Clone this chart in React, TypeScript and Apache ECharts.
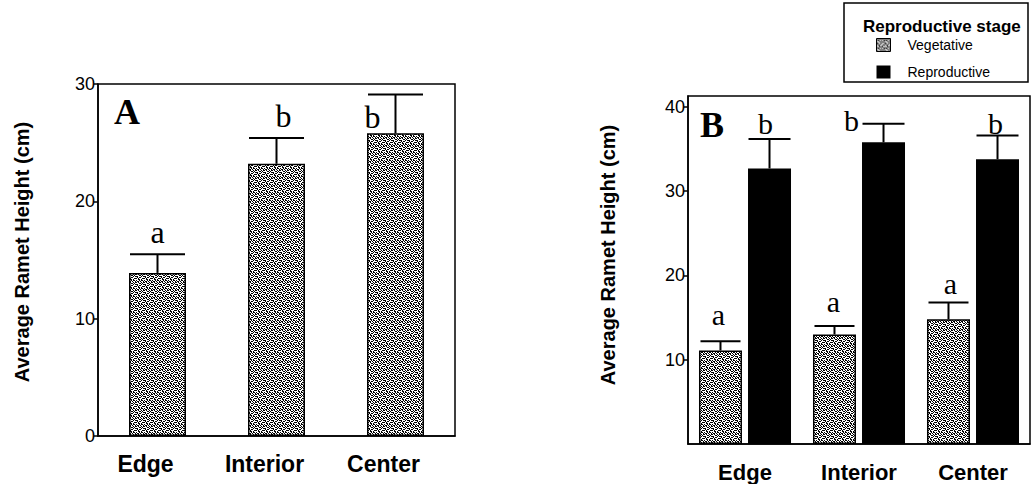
import { useEffect, useRef } from 'react';
import * as echarts from 'echarts';

// ---- data ----
const categories = ['Edge', 'Interior', 'Center'];
const heightA = [13.9, 23.2, 25.8];
const errorA = [1.6, 2.2, 3.3];
const lettersA = ['a', 'b', 'b'];
const vegetativeB = [11.1, 13.0, 14.8];
const vegetativeErrB = [1.1, 1.0, 2.0];
const reproductiveB = [32.7, 35.8, 33.8];
const reproductiveErrB = [3.5, 2.2, 2.8];
const lettersVegB = ['a', 'a', 'a'];
const lettersRepB = ['b', 'b', 'b'];
const yTicksA = [0, 10, 20, 30];
const yTicksB = [10, 20, 30, 40];
const seriesNames = ['Vegetative', 'Reproductive'];
const legendTitle = 'Reproductive stage';
const yAxisTitle = 'Average Ramet Height (cm)';
const panelLabels = ['A', 'B'];

// ---- label placement (px offsets from error-bar top) ----
const letterOffA = [[0, -22], [7, -22], [-23, 22]];
const letterOffVegB = [[-2, -27], [-1, -25], [2, -19]];
const letterOffRepB = [[-4, -15], [-32, -3], [-2, -12]];

const SANS = '"Liberation Sans", Arial, sans-serif';
const SERIF = '"Liberation Serif", "Times New Roman", serif';

const DITHER = [
  '10010110',
  '01101001',
  '10100101',
  '00011010',
  '11000101',
  '01011000',
  '10100011',
  '00110100',
];

function makePattern() {
  const c = document.createElement('canvas');
  c.width = 8;
  c.height = 8;
  const ctx = c.getContext('2d')!;
  ctx.fillStyle = '#ffffff';
  ctx.fillRect(0, 0, 8, 8);
  ctx.fillStyle = '#000000';
  DITHER.forEach((row, y) =>
    row.split('').forEach((ch, x) => {
      if (ch === '1') ctx.fillRect(x, y, 1, 1);
    })
  );
  return { image: c, repeat: 'repeat', imageWidth: 8, imageHeight: 8 } as any;
}

function errorSeries(
  xAxisIndex: number,
  means: number[],
  errs: number[],
  letters: string[],
  offs: number[][],
  dx: number,
  capW: number,
  fontSize: number
) {
  return {
    type: 'custom',
    xAxisIndex,
    yAxisIndex: xAxisIndex,
    z: 10,
    silent: true,
    data: means.map((m, i) => [i, m, m + errs[i]]),
    renderItem: (params: any, api: any) => {
      const i = api.value(0);
      const base = api.coord([i, api.value(1)]);
      const top = api.coord([i, api.value(2)]);
      const x = base[0] + dx;
      const off = offs[params.dataIndex];
      return {
        type: 'group',
        children: [
          {
            type: 'line',
            shape: { x1: x, y1: base[1], x2: x, y2: top[1] },
            style: { stroke: '#000', lineWidth: 2 },
          },
          {
            type: 'line',
            shape: { x1: x - capW / 2, y1: top[1], x2: x + capW / 2, y2: top[1] },
            style: { stroke: '#000', lineWidth: 2 },
          },
          {
            type: 'text',
            x: x + off[0],
            y: top[1] + off[1],
            style: {
              text: letters[params.dataIndex],
              font: `normal ${fontSize}px ${SERIF}`,
              fill: '#000',
              align: 'center',
              verticalAlign: 'middle',
            },
          },
        ],
      };
    },
  };
}

export default function App() {
  const ref = useRef<HTMLDivElement>(null);

  useEffect(() => {
    if (!ref.current) return;
    const chart = echarts.init(ref.current, undefined, { renderer: 'svg' });
    const pattern = makePattern();

    const xAxisCommon = (fontSize: number, margin: number, padding: number[]) => ({
      type: 'category',
      data: categories,
      axisLine: { lineStyle: { color: '#000', width: 1.5 } },
      axisTick: { alignWithLabel: true, length: 6, lineStyle: { color: '#000', width: 1.5 } },
      axisLabel: {
        color: '#000',
        fontFamily: SANS,
        fontWeight: 'bold',
        fontSize,
        margin,
        padding,
      },
      splitLine: { show: false },
    });

    const yAxisCommon = (max: number, ticks: number[], nameGap: number, namePad: number) => ({
      type: 'value',
      min: 0,
      max,
      axisLine: { show: true, lineStyle: { color: '#000', width: 1.5 } },
      axisTick: { show: true, length: 4, customValues: ticks, lineStyle: { color: '#000', width: 1.5 } },
      axisLabel: {
        customValues: ticks,
        color: '#000',
        fontFamily: SANS,
        fontSize: 18,
        margin: 3,
      },
      splitLine: { show: false },
      name: yAxisTitle,
      nameLocation: 'middle',
      nameRotate: 90,
      nameGap,
      nameTextStyle: {
        color: '#000',
        fontFamily: SANS,
        fontWeight: 'bold',
        fontSize: 20,
        padding: [0, 0, 0, namePad],
      },
    });

    const barW = 43;
    const gapPct = 14;
    const groupOff = (barW + (barW * gapPct) / 100) / 2;

    chart.setOption({
      animation: false,
      backgroundColor: '#fff',
      grid: [
        {
          left: 98, top: 84, width: 357, height: 352,
          show: true, borderColor: '#000', borderWidth: 1.5,
          containLabel: false, outerBoundsMode: 'none',
        },
        {
          left: 688, top: 96, width: 342, height: 348,
          show: true, borderColor: '#000', borderWidth: 1.5,
          containLabel: false, outerBoundsMode: 'none',
        },
      ],
      xAxis: [
        { gridIndex: 0, ...xAxisCommon(23, 16, [0, 24, 0, 0]) },
        { gridIndex: 1, ...xAxisCommon(22, 17, [0, 0, 0, 0]) },
      ],
      yAxis: [
        { gridIndex: 0, ...yAxisCommon(30, yTicksA, 66, 16) },
        { gridIndex: 1, ...yAxisCommon(41.3, yTicksB, 70, 30) },
      ],
      legend: {
        orient: 'vertical',
        left: 876,
        top: 38,
        padding: 0,
        itemWidth: 14,
        itemHeight: 13,
        itemGap: 13,
        icon: 'rect',
        selectedMode: false,
        data: [
          { name: seriesNames[0], itemStyle: { color: pattern, borderColor: '#000', borderWidth: 1 } },
          { name: seriesNames[1], itemStyle: { color: '#000' } },
        ],
        textStyle: { color: '#000', fontFamily: SANS, fontSize: 14, padding: [0, 0, 0, 12] },
      },
      graphic: [
        {
          type: 'rect',
          shape: { x: 844, y: 3, width: 184, height: 79 },
          style: { fill: 'none', stroke: '#000', lineWidth: 1.5 },
          silent: true,
        },
        {
          type: 'text',
          x: 863,
          y: 26,
          style: {
            text: legendTitle,
            font: `bold 17px ${SANS}`,
            fill: '#000',
            align: 'left',
            verticalAlign: 'middle',
          },
        },
        {
          type: 'text',
          x: 127,
          y: 112,
          style: {
            text: panelLabels[0],
            font: `bold 36px ${SERIF}`,
            fill: '#000',
            align: 'center',
            verticalAlign: 'middle',
          },
        },
        {
          type: 'text',
          x: 712,
          y: 125,
          style: {
            text: panelLabels[1],
            font: `bold 36px ${SERIF}`,
            fill: '#000',
            align: 'center',
            verticalAlign: 'middle',
          },
        },
      ],
      series: [
        {
          type: 'bar',
          name: 'All ramets',
          xAxisIndex: 0,
          yAxisIndex: 0,
          data: heightA,
          barWidth: 57,
          itemStyle: { color: pattern, borderColor: '#000', borderWidth: 1.5 },
          silent: true,
        },
        {
          type: 'bar',
          name: seriesNames[0],
          xAxisIndex: 1,
          yAxisIndex: 1,
          data: vegetativeB,
          barWidth: barW,
          barGap: gapPct + '%',
          itemStyle: { color: pattern, borderColor: '#000', borderWidth: 1.5 },
          silent: true,
        },
        {
          type: 'bar',
          name: seriesNames[1],
          xAxisIndex: 1,
          yAxisIndex: 1,
          data: reproductiveB,
          barWidth: barW,
          barGap: gapPct + '%',
          itemStyle: { color: '#000' },
          silent: true,
        },
        errorSeries(0, heightA, errorA, lettersA, letterOffA, 0, 55, 32),
        errorSeries(1, vegetativeB, vegetativeErrB, lettersVegB, letterOffVegB, -groupOff, 40, 30),
        errorSeries(1, reproductiveB, reproductiveErrB, lettersRepB, letterOffRepB, groupOff, 42, 30),
      ],
    } as any);

    return () => chart.dispose();
  }, []);

  return (
    <div
      ref={ref}
      style={{ position: 'fixed', left: 0, top: 0, width: 1031, height: 484, background: '#fff' }}
    />
  );
}
